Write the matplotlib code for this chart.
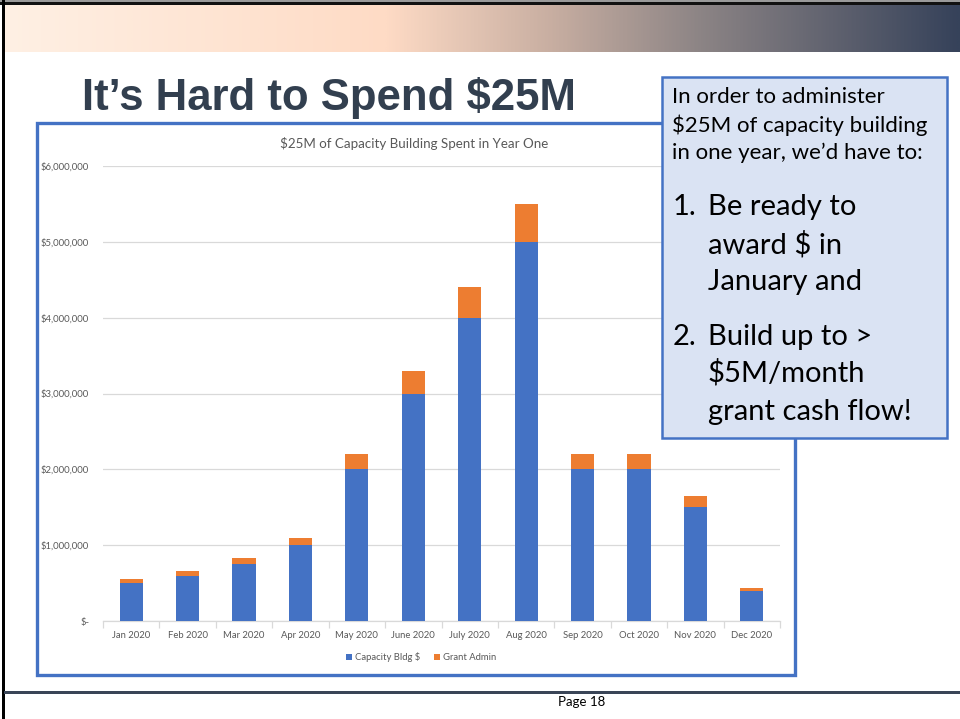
import numpy as np
import matplotlib
matplotlib.use("Agg")
import matplotlib.pyplot as plt
from matplotlib.patches import Rectangle, Patch
from matplotlib.colors import LinearSegmentedColormap
from matplotlib.ticker import FuncFormatter, MultipleLocator

# ---------------- data ----------------
months = ["Jan 2020", "Feb 2020", "Mar 2020", "Apr 2020", "May 2020", "June 2020",
          "July 2020", "Aug 2020", "Sep 2020", "Oct 2020", "Nov 2020", "Dec 2020"]
capacity_bldg = [500000, 600000, 750000, 1000000, 2000000, 3000000,
                 4000000, 5000000, 2000000, 2000000, 1500000, 400000]
grant_admin = [50000, 60000, 75000, 100000, 200000, 300000,
               400000, 500000, 200000, 200000, 150000, 40000]
series_names = ["Capacity Bldg $", "Grant Admin"]
y_ticks = [0, 1000000, 2000000, 3000000, 4000000, 5000000, 6000000]

slide_title = "It\u2019s Hard to Spend $25M"
chart_title = "$25M of Capacity Building Spent in Year One"
box_intro = ["In order to administer", "$25M of capacity building", "in one year, we\u2019d have to:"]
box_items = [("1.", ["Be ready to", "award $ in", "January and"]),
             ("2.", ["Build up to >", "$5M/month", "grant cash flow!"])]
footer = "Page 18"

BLUE = "#4472C4"
ORANGE = "#ED7D31"
GRID = "#D9D9D9"
TXT = "#595959"

W, H = 960, 719
fig = plt.figure(figsize=(W / 100, H / 100), dpi=100)
fig.patch.set_facecolor("white")

# ---------------- background (pixel coords) ----------------
bg = fig.add_axes([0, 0, 1, 1], zorder=0)
bg.set_xlim(0, W)
bg.set_ylim(H, 0)
bg.axis("off")

grad_cmap = LinearSegmentedColormap.from_list(
    "g", [(0.0, "#FFF0E4"), (0.40, "#FEDBC5"), (0.57, "#C9AFA2"),
          (0.73, "#8C8485"), (1.0, "#36425A")])
grad = np.linspace(0, 1, 512).reshape(1, -1)
bg.imshow(grad, cmap=grad_cmap, aspect="auto", extent=(3, W, 52, 4), zorder=1,
          interpolation="bilinear")
# top border lines
bg.add_patch(Rectangle((0, 0), W, 1.5, color="#9A9A9A", lw=0, zorder=2))
bg.add_patch(Rectangle((0, 1.5), W, 3, color="#111111", lw=0, zorder=2))
# left border
bg.add_patch(Rectangle((1.5, 0), 3, H, color="#000000", lw=0, zorder=2))
# bottom rule
bg.add_patch(Rectangle((4, 690.5), W, 3, color="#3A4557", lw=0, zorder=2))

# slide title
bg.text(82, 110, slide_title, fontsize=31.5, fontweight="bold", color="#323F4F",
        family="Liberation Sans", ha="left", va="baseline", zorder=3)

# chart frame
bg.add_patch(Rectangle((37, 123), 758, 552, facecolor="white", edgecolor=BLUE,
                       lw=2.4, zorder=2))

# footer
bg.text(582, 702, footer, fontsize=9.5, color="black", family="Lato",
        ha="center", va="center", zorder=3)

# ---------------- chart ----------------
left, right = 103 / W, 780 / W
bottom, top = 1 - 621 / H, 1 - 166 / H
ax = fig.add_axes([left, bottom, right - left, top - bottom], zorder=2)
ax.patch.set_alpha(0)

x = np.arange(len(months))
bw = 0.41
ax.bar(x, capacity_bldg, width=bw, color=BLUE, zorder=3, label=series_names[0])
ax.bar(x, grant_admin, width=bw, bottom=capacity_bldg, color=ORANGE, zorder=3,
       label=series_names[1])

ax.set_xlim(-0.5, len(months) - 0.5)
ax.set_ylim(0, 6000000)
ax.set_yticks(y_ticks)
ax.yaxis.set_major_formatter(FuncFormatter(lambda v, p: "$-" if v == 0 else f"${v:,.0f}"))
ax.grid(axis="y", color=GRID, lw=0.9, zorder=0)
ax.set_axisbelow(True)
for s in ["top", "right", "left"]:
    ax.spines[s].set_visible(False)
ax.spines["bottom"].set_color(GRID)
ax.spines["bottom"].set_linewidth(0.9)

ax.set_xticks(x)
ax.set_xticklabels(months)
ax.xaxis.set_minor_locator(MultipleLocator(1, offset=0.5))
ax.tick_params(axis="x", which="major", length=0, pad=7, labelsize=6.8, labelcolor=TXT)
ax.tick_params(axis="x", which="minor", length=5, color=GRID, width=0.9)
ax.tick_params(axis="y", length=0, pad=10, labelsize=6.8, labelcolor=TXT)
for lab in ax.get_xticklabels() + ax.get_yticklabels():
    lab.set_family("Lato")

fig.text(414 / W, 1 - 143 / H, chart_title, fontsize=9.6, color=TXT, family="Lato",
         ha="center", va="center")

handles = [Patch(facecolor=BLUE), Patch(facecolor=ORANGE)]
leg = fig.legend(handles, series_names, loc="center", bbox_to_anchor=(421 / W, 1 - 657 / H),
                 ncol=2, frameon=False, handlelength=0.65, handleheight=0.65,
                 handletextpad=0.3, columnspacing=1.4,
                 prop={"family": "Lato", "size": 6.8})
for t in leg.get_texts():
    t.set_color(TXT)

# ---------------- callout box ----------------
ov = fig.add_axes([0, 0, 1, 1], zorder=5)
ov.set_xlim(0, W)
ov.set_ylim(H, 0)
ov.axis("off")
ov.patch.set_alpha(0)
ov.add_patch(Rectangle((662, 77), 285, 361, facecolor="#DAE3F3", edgecolor=BLUE,
                       lw=1.8, zorder=2))
small_y = [97, 125, 153]
for yy, line in zip(small_y, box_intro):
    ov.text(672, yy, line, fontsize=16, family="Lato", color="black",
            ha="left", va="center", zorder=3)
big_y = [[207, 245, 282], [337, 373, 412]]
for (num, lines), ys in zip(box_items, big_y):
    ov.text(673, ys[0], num, fontsize=21, family="Lato", color="black",
            ha="left", va="center", zorder=3)
    for yy, line in zip(ys, lines):
        ov.text(708, yy, line, fontsize=21, family="Lato", color="black",
                ha="left", va="center", zorder=3)

fig.savefig("out.png", dpi=100)
